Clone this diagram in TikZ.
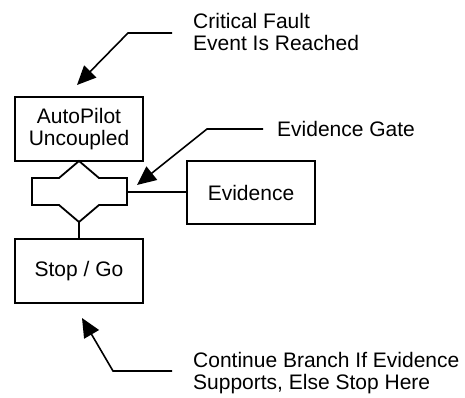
\documentclass[tikz,border=0pt]{standalone}
\usepackage{fontspec}
\setmainfont{Liberation Sans}
\usetikzlibrary{arrows.meta}
\begin{document}
\begin{tikzpicture}[x=1pt,y=-1pt,
  every node/.style={font=\fontsize{21}{22.5}\selectfont},
  block/.style={draw,line width=1.8pt,minimum width=128pt,inner sep=0pt,align=center},
  wire/.style={line width=1.8pt},
  note/.style={line width=1.6pt,-{Triangle[length=19pt,width=17pt]}},
  caption/.style={inner sep=0pt,align=left}]
\useasboundingbox (0,0) rectangle (465,397);

% event boxes
\node[block,minimum height=64pt] (auto) at (79,129) {AutoPilot\\Uncoupled};
\node[block,minimum height=64pt] (stop) at (79,271) {Stop / Go};
\node[block,minimum height=63pt] (evid) at (251,192.5) {Evidence};

% evidence gate outline
\coordinate (gtop) at (79,161);
\coordinate (gbot) at (79,222);
\coordinate (gright) at (127,192);
\draw[wire,line join=miter] (gtop) -- (59,178) -- (32,178) -- (32,205) -- (59,205)
  -- (gbot) -- (99,205) -- (127,205) -- (127,178) -- (99,178) -- cycle;

% connectors
\draw[wire] (gbot) -- (stop.north);
\draw[wire] (gright) -- (gright -| evid.west);

% annotations
\node[caption,anchor=north west] (crit) at (193,13) {Critical Fault\\Event Is Reached};
\coordinate (critend) at (172,33);
\coordinate (crittip) at (77,85);
\draw[note] (critend) -- (128,33) -- (crittip);

\node[caption,anchor=base west] (gatelbl) at (277,136) {Evidence Gate};
\coordinate (gateend) at (263,129);
\coordinate (gatetip) at (137,185);
\draw[note] (gateend) -- (207,129) -- (gatetip);

\node[caption,anchor=north west] (cont) at (193,352) {Continue Branch If Evidence\\Supports, Else Stop Here};
\coordinate (contend) at (172,371);
\coordinate (conttip) at (82,318);
\draw[note] (contend) -- (113,371) -- (conttip);
\end{tikzpicture}
\end{document}
